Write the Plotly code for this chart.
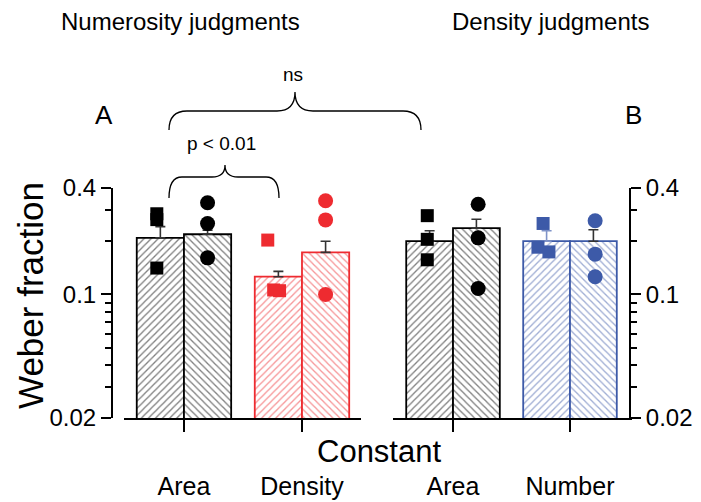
import plotly.graph_objects as go

W, H = 701, 502

# ---------------- data ----------------
left_categories = ["Area", "Density"]
right_categories = ["Area", "Number"]

# bar means (Weber fraction): first bar of each pair (squares), second bar (circles)
left_means_sq = [0.209, 0.126]
left_means_ci = [0.219, 0.173]
left_err_sq = [0.033, 0.009]
left_err_ci = [0.012, 0.027]

right_means_sq = [0.200, 0.200]
right_means_ci = [0.237, 0.200]
right_err_sq = [0.029, 0.029]
right_err_ci = [0.029, 0.032]

# individual observers
left_area_sq = [0.286, 0.265, 0.141]
left_area_ci = [0.330, 0.252, 0.161]
left_dens_sq = [0.203, 0.106, 0.105]
left_dens_ci = [0.339, 0.264, 0.100]
right_area_sq = [0.279, 0.205, 0.157]
right_area_ci = [0.324, 0.209, 0.108]
right_num_sq = [0.252, 0.185, 0.174]
right_num_ci = [0.261, 0.169, 0.126]

y_tickvals = [0.02, 0.1, 0.4]
y_ticktext = ["0.02", "0.1", "0.4"]
y_minorvals = [0.03, 0.04, 0.05, 0.06, 0.07, 0.08, 0.09, 0.2, 0.3]

# ---------------- styles ----------------
BLACK = "#000000"
RED = "#ee2b30"
BLUE = "#3d5aa8"
FONT = "Liberation Sans, Arial, Helvetica, sans-serif"
BAR_W = 0.4


def px(x):
    return x / W


def py(y):
    return 1 - y / H


fig = go.Figure()


def add_bar(xi, mean, err, color, shape, side, xa, ya, errcolor):
    fig.add_trace(go.Bar(
        x=[xi], y=[mean], width=BAR_W, offset=-BAR_W if side == 0 else 0,
        xaxis=xa, yaxis=ya,
        marker=dict(color="white",
                    line=dict(color=color, width=1.8),
                    pattern=dict(shape=shape, fgcolor=color, bgcolor="white",
                                 size=5, solidity=0.26)),
        error_y=dict(type="data", symmetric=False, array=[err], arrayminus=[0],
                     color=errcolor, thickness=1.6, width=5),
        showlegend=False, hoverinfo="skip"))


def add_points(xc, vals, jit, color, symbol, xa, ya, size):
    fig.add_trace(go.Scatter(
        x=[xc + j for j in jit], y=vals, mode="markers", xaxis=xa, yaxis=ya,
        marker=dict(color=color, symbol=symbol, size=size, line=dict(width=0)),
        showlegend=False, hoverinfo="skip", cliponaxis=False))


# left panel
left_colors = [BLACK, RED]
for i in range(2):
    add_bar(i, left_means_sq[i], left_err_sq[i], left_colors[i], "/", 0, "x", "y", "#333333")
    add_bar(i, left_means_ci[i], left_err_ci[i], left_colors[i], "\\", 1, "x", "y", "#333333")

add_points(-0.2, left_area_sq, [-0.03, -0.03, -0.03], BLACK, "square", "x", "y", 13)
add_points(0.2, left_area_ci, [0.0, 0.0, 0.0], BLACK, "circle", "x", "y", 15)
add_points(0.8, left_dens_sq, [-0.09, -0.04, 0.01], RED, "square", "x", "y", 13)
add_points(1.2, left_dens_ci, [0.0, 0.0, 0.0], RED, "circle", "x", "y", 15)

# right panel
right_colors = [BLACK, BLUE]
right_errc_sq = ["#333333", "#7f93c8"]
for i in range(2):
    add_bar(i, right_means_sq[i], right_err_sq[i], right_colors[i], "/", 0, "x2", "y2", right_errc_sq[i])
    add_bar(i, right_means_ci[i], right_err_ci[i], right_colors[i], "\\", 1, "x2", "y2", "#333333")

add_points(-0.2, right_area_sq, [-0.02, -0.02, -0.02], BLACK, "square", "x2", "y2", 13)
add_points(0.2, right_area_ci, [0.015, 0.015, 0.015], BLACK, "circle", "x2", "y2", 15)
add_points(0.8, right_num_sq, [-0.03, -0.074, 0.02], BLUE, "square", "x2", "y2", 13)
add_points(1.2, right_num_ci, [0.015, 0.015, 0.015], BLUE, "circle", "x2", "y2", 15)

# ---------------- axes ----------------
y_dom = [py(418), py(188)]
yax_common = dict(
    type="log", range=[-1.69897, -0.39794], domain=y_dom,
    tickmode="array", tickvals=y_tickvals, ticktext=y_ticktext,
    ticks="outside", ticklen=10, tickwidth=2, tickcolor="black",
    showline=True, linewidth=2, linecolor="black", showgrid=False,
    zeroline=False, anchor="free", automargin=False,
    tickfont=dict(family=FONT, size=24, color="black"),
    minor=dict(tickvals=y_minorvals, ticks="outside", ticklen=6,
               tickwidth=1.6, tickcolor="black", showgrid=False),
)
xax_common = dict(
    tickmode="array", tickvals=[0, 1],
    ticks="outside", ticklen=12, tickwidth=2, tickcolor="black",
    showline=True, linewidth=2, linecolor="black", showgrid=False,
    zeroline=False, ticklabelstandoff=33, automargin=False,
    tickfont=dict(family=FONT, size=25, color="black"),
)

fig.update_layout(
    width=W, height=H, margin=dict(l=0, r=0, t=0, b=0, autoexpand=False),
    paper_bgcolor="white", plot_bgcolor="rgba(0,0,0,0)",
    barmode="overlay", showlegend=False,
    font=dict(family=FONT, color="black"),
    xaxis=dict(xax_common, domain=[px(124), px(361)], range=[-0.508, 1.5],
               anchor="y", ticktext=left_categories),
    xaxis2=dict(xax_common, domain=[px(393), px(632)], range=[-0.513, 1.530],
                anchor="y2", ticktext=right_categories),
    yaxis=dict(yax_common, position=px(112), side="left"),
    yaxis2=dict(yax_common, position=px(630), side="right"),
)


# ---------------- braces ----------------
def brace(x0, x1, y_end, y_h, xm, y_tip, r):
    pts = [
        f"M {px(x0)},{py(y_end)}",
        f"Q {px(x0)},{py(y_h)} {px(x0 + r)},{py(y_h)}",
        f"L {px(xm - r)},{py(y_h)}",
        f"Q {px(xm)},{py(y_h)} {px(xm)},{py(y_tip)}",
        f"Q {px(xm)},{py(y_h)} {px(xm + r)},{py(y_h)}",
        f"L {px(x1 - r)},{py(y_h)}",
        f"Q {px(x1)},{py(y_h)} {px(x1)},{py(y_end)}",
    ]
    return dict(type="path", xref="paper", yref="paper", path=" ".join(pts),
                line=dict(color="black", width=1.3))


fig.add_shape(brace(169, 421, 130, 111, 295, 92, 18))
fig.add_shape(brace(169, 279, 198, 177, 225, 165, 13))

# ---------------- texts ----------------
def note(text, x, y, size, angle=0):
    fig.add_annotation(text=text, x=px(x), y=py(y), xref="paper", yref="paper",
                       showarrow=False, textangle=angle, xanchor="center", yanchor="middle",
                       font=dict(family=FONT, size=size, color="black"))


note("Numerosity judgments", 180, 22, 24)
note("Density judgments", 550, 22, 24)
note("A", 104, 115, 26)
note("B", 633, 115, 26)
note("ns", 293, 75, 19)
note("p &lt; 0.01", 221, 144, 19)
note("Constant", 379, 451, 31)
note("Weber fraction", 30, 296, 35, angle=-90)

fig.write_html("out.html")
